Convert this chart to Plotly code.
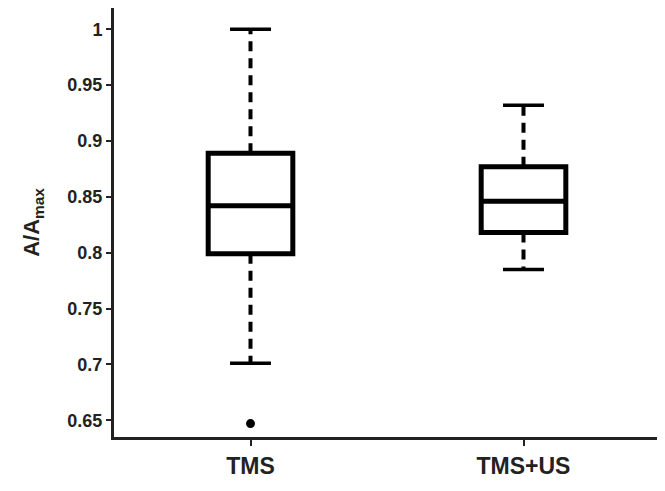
import plotly.graph_objects as go

categories = ["TMS", "TMS+US"]
q1 = [0.799, 0.818]
median = [0.842, 0.846]
q3 = [0.889, 0.877]
lower_whisker = [0.701, 0.785]
upper_whisker = [1.0, 0.932]
outlier_cat = [0]
outlier_val = [0.647]
yticks = [0.65, 0.7, 0.75, 0.8, 0.85, 0.9, 0.95, 1.0]
yticklabels = ["0.65", "0.7", "0.75", "0.8", "0.85", "0.9", "0.95", "1"]

xpos = list(range(len(categories)))
box_w = 0.31
cap_w = 0.15
font = "Liberation Sans, Arial, sans-serif"
ink = "#222"

fig = go.Figure()

# whiskers (dashed) and caps
for i in xpos:
    fig.add_trace(go.Scatter(x=[i, i], y=[q3[i], upper_whisker[i]], mode="lines",
                             line=dict(color="black", width=4, dash="10px,7px"),
                             showlegend=False, hoverinfo="skip"))
    fig.add_trace(go.Scatter(x=[i, i], y=[q1[i], lower_whisker[i]], mode="lines",
                             line=dict(color="black", width=4, dash="10px,7px"),
                             showlegend=False, hoverinfo="skip"))
    for v in (upper_whisker[i], lower_whisker[i]):
        fig.add_trace(go.Scatter(x=[i - cap_w / 2, i + cap_w / 2], y=[v, v], mode="lines",
                                 line=dict(color="black", width=3.5),
                                 showlegend=False, hoverinfo="skip"))

fig.add_trace(go.Box(
    x=xpos, q1=q1, median=median, q3=q3,
    lowerfence=q1, upperfence=q3,
    width=box_w, whiskerwidth=0,
    fillcolor="white", line=dict(color="black", width=5),
    boxpoints=False, showlegend=False,
))

fig.add_trace(go.Scatter(x=outlier_cat, y=outlier_val, mode="markers",
                         marker=dict(color="black", size=9),
                         showlegend=False))

# page body has an 8px margin, so the figure is sized to fit the window
fig.update_layout(
    width=657, height=483,
    margin=dict(l=106, r=5, t=0, b=54),
    plot_bgcolor="white", paper_bgcolor="white",
    font=dict(family=font, color=ink),
)
fig.update_xaxes(
    range=[-0.5, 1.5], tickvals=xpos, ticktext=categories,
    showgrid=False, zeroline=False,
    showline=True, linecolor=ink, linewidth=3,
    ticks="outside", ticklen=6, tickwidth=2, tickcolor=ink,
    tickfont=dict(size=23, family=font, color=ink, weight="bold"),
)
fig.update_yaxes(
    range=[0.635, 1.019], tickvals=yticks, ticktext=yticklabels,
    showgrid=False, zeroline=False,
    showline=True, linecolor=ink, linewidth=3,
    ticks="outside", ticklen=5, tickwidth=2, tickcolor=ink,
    tickfont=dict(size=18, family=font, color=ink, weight="bold"),
    title=dict(text="A/A<sub>max</sub>", standoff=22,
               font=dict(size=22, family=font, color=ink, weight="bold")),
)

fig.write_html("out.html")
